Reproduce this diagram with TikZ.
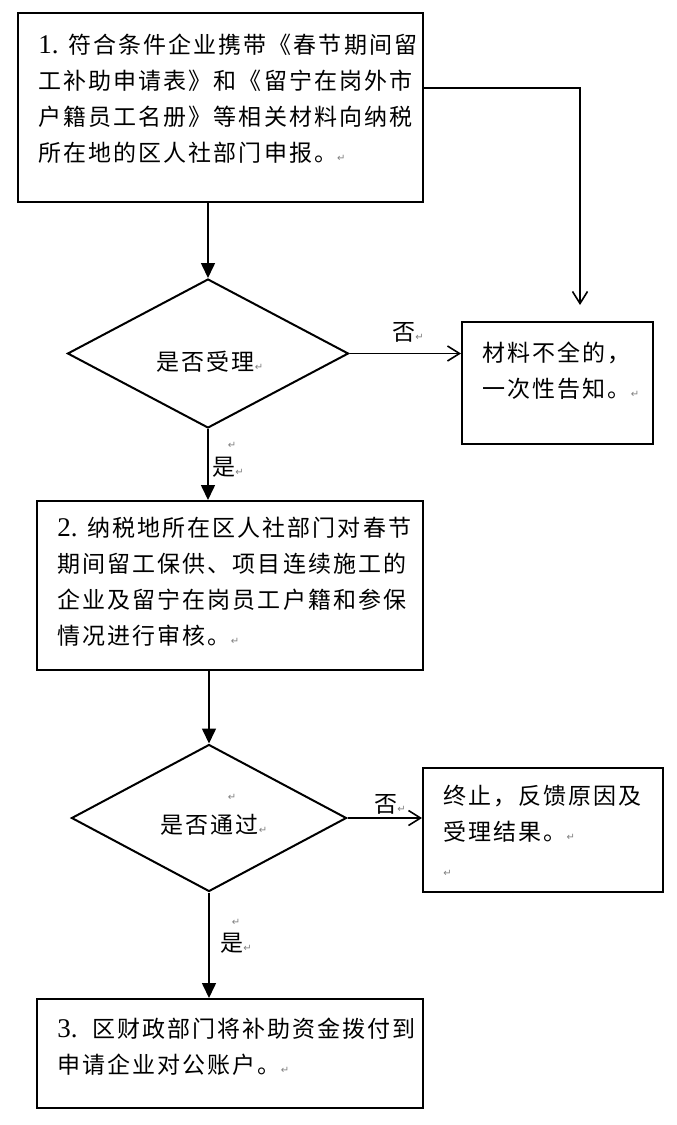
\documentclass[tikz,border=0pt]{standalone}
\usepackage{fontspec}
\setmainfont{Liberation Serif}
\newfontfamily\cjk[LetterSpace=9]{Noto Sans CJK SC}
\newfontfamily\marksfont{DejaVu Sans}
\usetikzlibrary{shapes.geometric,arrows.meta}
\newcommand{\pmark}{{\marksfont\fontsize{5pt}{5pt}\selectfont\textcolor{gray}{↵}}}
\newcommand{\stepno}[1]{{\rmfamily\fontsize{13.5pt}{18pt}\selectfont #1}}
\tikzset{
  procbox/.style={draw, line width=1pt, inner sep=0pt},
  decision/.style={draw, diamond, line width=1pt, inner sep=0pt},
  txt/.style={anchor=north west, align=left, inner sep=0pt, font=\cjk\fontsize{11.5pt}{18pt}\selectfont},
  lbl/.style={inner sep=0pt, font=\cjk\fontsize{11.5pt}{18pt}\selectfont},
  flow/.style={line width=0.8pt, -{Triangle[width=7pt,length=7.5pt]}},
  reject/.style={line width=0.8pt, -{Straight Barb[width=7.5pt,length=6pt]}}
}
\begin{document}
\begin{tikzpicture}[x=0.5pt, y=-0.5pt]
	\useasboundingbox (0,0) rectangle (676,1125);
	% boxes
	\node [procbox, minimum width=202.5pt, minimum height=94.5pt] (apply) at (220.5,107.5) {};
	\node [procbox, minimum width=95.5pt, minimum height=61pt] (incomplete) at (557.5,383) {};
	\node [procbox, minimum width=193pt, minimum height=84.5pt] (review) at (230,585.5) {};
	\node [procbox, minimum width=120pt, minimum height=62pt] (stop) at (543,830) {};
	\node [procbox, minimum width=193pt, minimum height=54.5pt] (pay) at (230,1053.5) {};
	% decisions
	\node [decision, minimum width=140.5pt, minimum height=74.5pt] (d1) at (208,353.5) {};
	\node [decision, minimum width=137.5pt, minimum height=73.5pt] (d2) at (209,818) {};
	% texts
	\node [txt] (applytext) at (38,33.5) {\stepno{1.} 符合条件企业携带《春节期间留\\工补助申请表》和《留宁在岗外市\\户籍员工名册》等相关材料向纳税\\所在地的区人社部门申报。\pmark};
	\node [txt] (incompletetext) at (482,341.5) {材料不全的，\\一次性告知。\pmark};
	\node [txt] (reviewtext) at (57,516.5) {\stepno{2.} 纳税地所在区人社部门对春节\\期间留工保供、项目连续施工的\\企业及留宁在岗员工户籍和参保\\情况进行审核。\pmark};
	\node [txt] (stoptext) at (443,784.5) {终止，反馈原因及\\受理结果。\pmark\\\pmark};
	\node [txt] (paytext) at (57,1017.5) {\stepno{3.}\ \ 区财政部门将补助资金拨付到\\申请企业对公账户。\pmark};
	\node [lbl] (d1text) at (210,362) {是否受理\pmark};
	\node [lbl] (d2text) at (214,825) {是否通过\pmark};
	\node [lbl] (d2mark) at (232,797) {\pmark};
	% connectors
	\coordinate (corner) at (580,88);
	\coordinate (tip) at (580,305);
	\draw [reject] (apply.east |- corner) -- (corner) -- (tip);
	\draw [flow] (apply.south -| d1.north) -- (d1.north);
	\draw [reject] (d1.east) -- (d1.east -| incomplete.west);
	\draw [flow] (d1.south) -- (d1.south |- review.north);
	\draw [flow] (review.south -| d2.north) -- (d2.north);
	\draw [reject] (d2.east) -- (d2.east -| stop.west);
	\draw [flow] (d2.south) -- (d2.south |- pay.north);
	% yes / no
	\node [lbl] (no1) at (408,332) {否\pmark};
	\node [lbl] (yes1) at (228,467) {是\pmark};
	\node [lbl] (yes1mark) at (232,445) {\pmark};
	\node [lbl] (no2) at (390,804) {否\pmark};
	\node [lbl] (yes2) at (236,943) {是\pmark};
	\node [lbl] (yes2mark) at (236,922) {\pmark};
\end{tikzpicture}
\end{document}
